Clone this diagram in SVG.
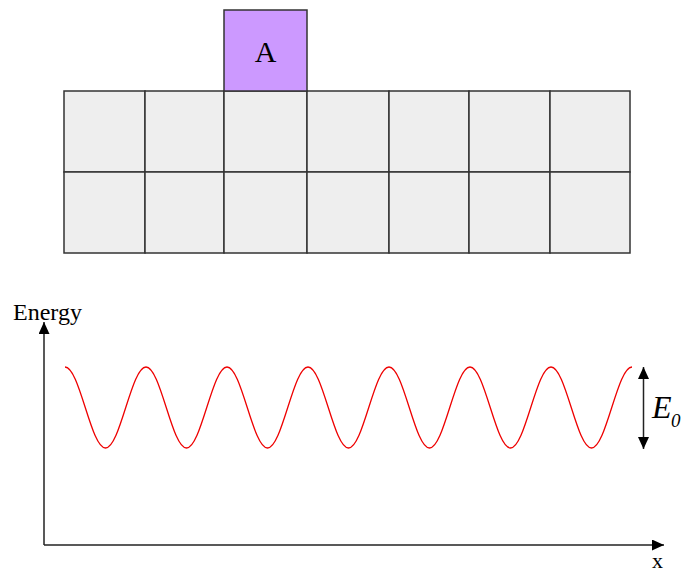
<svg xmlns="http://www.w3.org/2000/svg" width="688" height="572" viewBox="0 0 688 572">
  <style>
    .cell { fill: #eeeeee; stroke: #333333; stroke-width: 1.5; }
    .atom { fill: #cc99ff; stroke: #333333; stroke-width: 1.5; }
    .axis { fill: none; stroke: #222222; stroke-width: 1.5; }
    .wave { fill: none; stroke: #ee0000; stroke-width: 1.3; }
    .t { font-family: "Liberation Serif", "Times New Roman", serif; fill: #000000; }
  </style>
  <defs>
    <marker id="arrowEnd" viewBox="0 0 12 11" refX="12" refY="5.5" markerWidth="12" markerHeight="11" markerUnits="userSpaceOnUse" orient="auto">
      <path d="M0,0 L12,5.5 L0,11 Z" fill="#000000"/>
    </marker>
    <marker id="arrowStart" viewBox="0 0 12 11" refX="0" refY="5.5" markerWidth="12" markerHeight="11" markerUnits="userSpaceOnUse" orient="auto">
      <path d="M12,0 L0,5.5 L12,11 Z" fill="#000000"/>
    </marker>
  </defs>
  <rect width="688" height="572" fill="#ffffff"/>

  <g id="lattice">
    <rect class="cell" x="64" y="91" width="81" height="81"/>
    <rect class="cell" x="145" y="91" width="79" height="81"/>
    <rect class="cell" x="224" y="91" width="83" height="81"/>
    <rect class="cell" x="307" y="91" width="82" height="81"/>
    <rect class="cell" x="389" y="91" width="80" height="81"/>
    <rect class="cell" x="469" y="91" width="81" height="81"/>
    <rect class="cell" x="550" y="91" width="80" height="81"/>
    <rect class="cell" x="64" y="172" width="81" height="81"/>
    <rect class="cell" x="145" y="172" width="79" height="81"/>
    <rect class="cell" x="224" y="172" width="83" height="81"/>
    <rect class="cell" x="307" y="172" width="82" height="81"/>
    <rect class="cell" x="389" y="172" width="80" height="81"/>
    <rect class="cell" x="469" y="172" width="81" height="81"/>
    <rect class="cell" x="550" y="172" width="80" height="81"/>
  </g>

  <g id="atomA">
    <rect class="atom" x="224" y="10" width="83" height="81"/>
    <text class="t" x="265.5" y="62" font-size="30" text-anchor="middle">A</text>
  </g>

  <g id="potential">
    <path class="wave" d="M65,367 c7.33,0 13.64,19.75 20.25,40.5 s12.92,40.5 20.25,40.5 s13.64,-19.75 20.25,-40.5 s12.92,-40.5 20.25,-40.5
      s13.64,19.75 20.25,40.5 s12.92,40.5 20.25,40.5 s13.64,-19.75 20.25,-40.5 s12.92,-40.5 20.25,-40.5
      s13.64,19.75 20.25,40.5 s12.92,40.5 20.25,40.5 s13.64,-19.75 20.25,-40.5 s12.92,-40.5 20.25,-40.5
      s13.64,19.75 20.25,40.5 s12.92,40.5 20.25,40.5 s13.64,-19.75 20.25,-40.5 s12.92,-40.5 20.25,-40.5
      s13.64,19.75 20.25,40.5 s12.92,40.5 20.25,40.5 s13.64,-19.75 20.25,-40.5 s12.92,-40.5 20.25,-40.5
      s13.64,19.75 20.25,40.5 s12.92,40.5 20.25,40.5 s13.64,-19.75 20.25,-40.5 s12.92,-40.5 20.25,-40.5
      s13.64,19.75 20.25,40.5 s12.92,40.5 20.25,40.5 s13.64,-19.75 20.25,-40.5 s12.92,-40.5 20.25,-40.5"/>
  </g>

  <g id="connectors">
    <path class="axis" d="M44,545 L44,322" marker-end="url(#arrowEnd)"/>
    <path class="axis" d="M44,545 L664,545" marker-end="url(#arrowEnd)"/>
    <path class="axis" d="M643.5,367 L643.5,449" marker-start="url(#arrowStart)" marker-end="url(#arrowEnd)"/>
  </g>

  <g id="labels">
    <text class="t" x="13" y="320" font-size="23" textLength="69" lengthAdjust="spacingAndGlyphs">Energy</text>
    <text class="t" x="652" y="568" font-size="22">x</text>
    <text class="t" x="652" y="418" font-size="32" font-style="italic">E</text>
    <text class="t" x="671" y="427" font-size="19" font-style="italic">0</text>
  </g>
</svg>
